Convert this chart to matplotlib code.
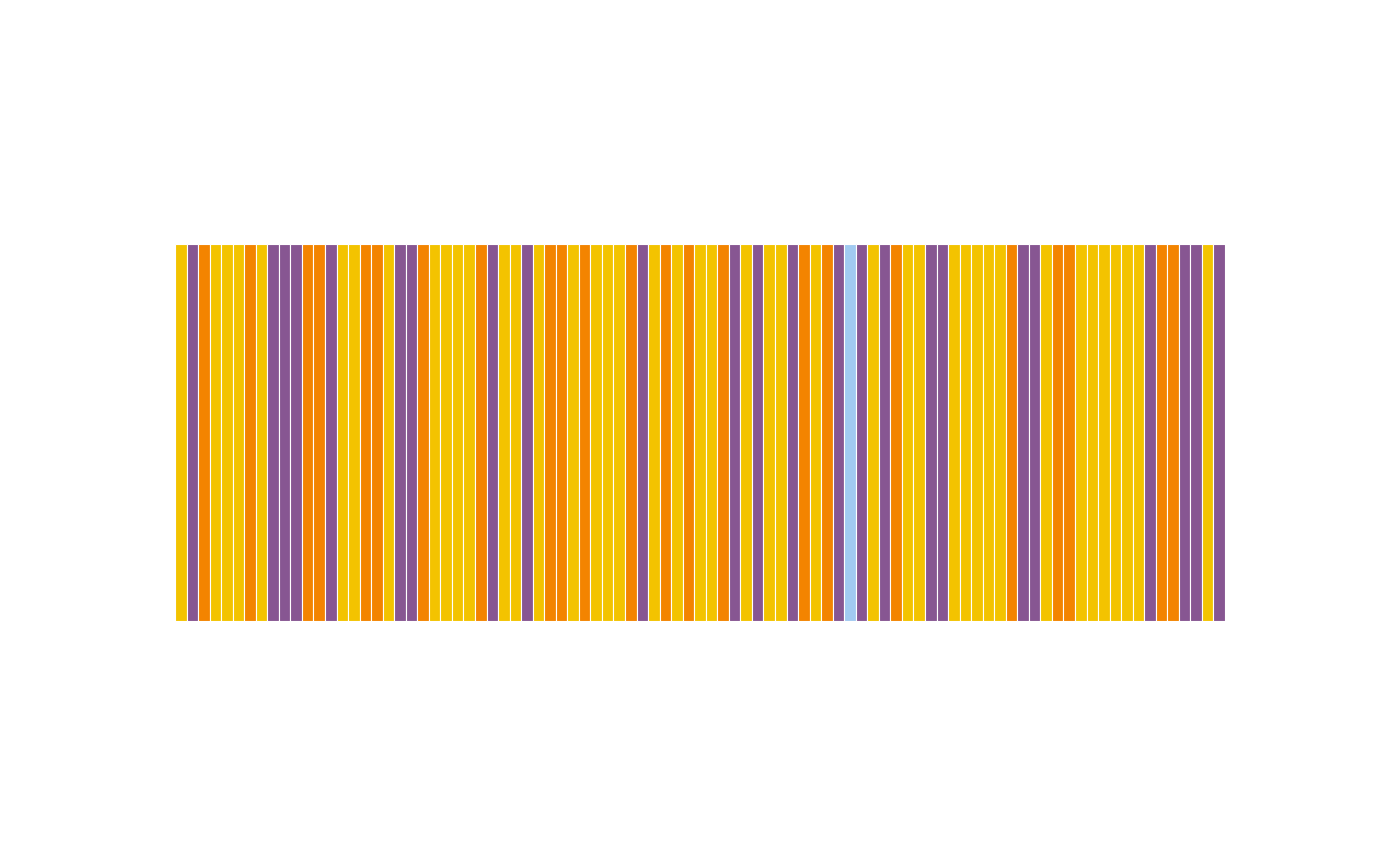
import matplotlib
matplotlib.use('Agg')
import matplotlib.pyplot as plt

# ─── DATOS ────────────────────────────────────────────────────
# Y = amarillo, P = morado, O = naranja, L = azul claro
secuencia = list(
    "YPOYYYOYPPPOOPYYOOYPPOY"
    "YYYOPYYPYOOYOYYYOPYOYO"
    "YYOPYPYYPOYOPLPYPOYYPP"
    "YYYYYOPPYOOYYYYYYPOOPPYP"
)
colores = {"Y": "#F3C300", "P": "#875692", "O": "#F38400", "L": "#A1CAF1"}
alturas = [1] * len(secuencia)

# ─── GRÁFICA ──────────────────────────────────────────────────
fig = plt.figure(figsize=(14, 8.66), dpi=100)
ax = fig.add_axes([0.125, 0.2829, 0.75, 0.4353])

ax.bar(range(len(secuencia)), alturas, width=1.0,
       color=[colores[c] for c in secuencia],
       edgecolor="white", linewidth=0.8)
ax.set_xlim(-0.5, len(secuencia) - 0.5)
ax.set_ylim(0, 1)
ax.axis("off")

plt.savefig("out.png", dpi=100)
plt.close()
